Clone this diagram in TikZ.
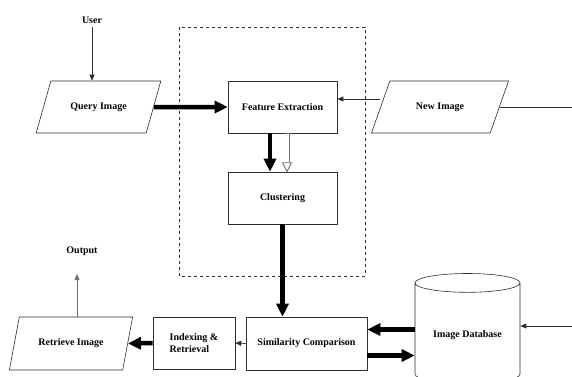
\documentclass[tikz,border=0pt]{standalone}
\usepackage{fontspec}
\setmainfont{Liberation Serif}
\usetikzlibrary{shapes.geometric,arrows.meta}
\definecolor{Lne}{RGB}{45,45,45}
\definecolor{Lgry}{RGB}{110,110,110}
\tikzset{
    procbox/.style={draw=Lne, line width=0.6pt, minimum width=109pt,
                    minimum height=52pt, font=\bfseries},
    iobox/.style={trapezium, trapezium stretches=true, draw=Lne,
                  line width=0.6pt, minimum height=52pt, font=\bfseries},
    thinarrow/.style={draw=Lne, line width=0.7pt,
                      -{Triangle[length=6pt,width=5pt]}},
    fatarrow/.style={draw=black, line width=4.5pt,
                     -{Triangle[length=13pt,width=12pt]}}
}

\begin{document}
\begin{tikzpicture}[x=1pt,y=-1pt]
    \useasboundingbox (0,0) rectangle (572,376);
    % dashed frame round the feature stage
    \draw[Lne, dashed, line width=0.6pt] (179,27) rectangle (365,276);

    \node[font=\bfseries] (user) at (92,20) {User};
    \node[iobox, trapezium left angle=58, trapezium right angle=122,
          minimum width=125pt] (query) at (98.5,107) {Query Image};
    \node[procbox] (feat) at (282.5,107) {Feature Extraction};
    \node[procbox] (clus) at (282.5,198) {Clustering};
    \node[iobox, trapezium left angle=57, trapezium right angle=123,
          minimum width=138pt] (newimg) at (440,107) {New Image};
    \node[procbox, minimum width=121pt, minimum height=53pt] (simi)
          at (306.5,343.5) {Similarity Comparison};
    \node[procbox, minimum width=82pt, align=left] (index)
          at (194,343) {Indexing \&\\Retrieval};
    \node[iobox, trapezium left angle=66.5, trapezium right angle=113.5,
          minimum width=124pt, minimum height=53pt] (retr)
          at (71,343.5) {Retrieve Image};
    \node[font=\bfseries] (out) at (82,251) {Output};
    \node[cylinder, shape border rotate=90, aspect=0.25, draw=Lne,
          line width=0.6pt, minimum width=105pt, minimum height=110pt,
          font=\bfseries] (db) at (467.5,335) {Image Database};

    \coordinate (outtip) at (77,274);
    \coordinate (nright) at (572,105);
    \coordinate (dbright) at (572,326);
    \coordinate (hollowtop) at ([xshift=4.5pt]feat.south);
    \coordinate (hollowend) at ([xshift=4.5pt]clus.north);

    % connectors
    \draw[thinarrow] (user.south) -- (user.south |- query.north);
    \draw[fatarrow] (query.east) -- (feat.west);
    \draw[thinarrow] ([yshift=8pt]newimg.west) -- ([yshift=8pt]feat.east);
    \draw[Lne, line width=0.6pt] (newimg.east) -- (newimg.east -| nright);
    \draw[fatarrow] ([xshift=-12.5pt]feat.south) -- ([xshift=-12.5pt]clus.north);
    % hollow arrow
    \draw[Lgry, line width=5pt, shorten >=8pt] (hollowtop) -- (hollowend);
    \draw[white, line width=3.2pt, shorten >=7pt, shorten <=0.4pt] (hollowtop) -- (hollowend);
    \draw[Lgry, line width=0.9pt, fill=white, line join=miter]
        ([xshift=-4.5pt,yshift=9pt]hollowend) -- (hollowend)
        -- ([xshift=4.5pt,yshift=9pt]hollowend) -- cycle;
    \draw[fatarrow] (clus.south) -- (clus.south |- simi.north);
    \draw[thinarrow] (simi.west) -- (index.east);
    \draw[fatarrow] (index.west) -- (retr.east);
    \draw[thinarrow, draw=Lgry] (retr.north -| outtip) -- (outtip);
    \draw[fatarrow] ([yshift=14pt]simi.east -| db.west) -- ([yshift=14pt]simi.east);
    \draw[fatarrow] ([yshift=-12pt]simi.east) -- ([yshift=-12pt]simi.east -| db.west);
    \draw[thinarrow] (dbright) -- (dbright -| db.east);
\end{tikzpicture}
\end{document}
